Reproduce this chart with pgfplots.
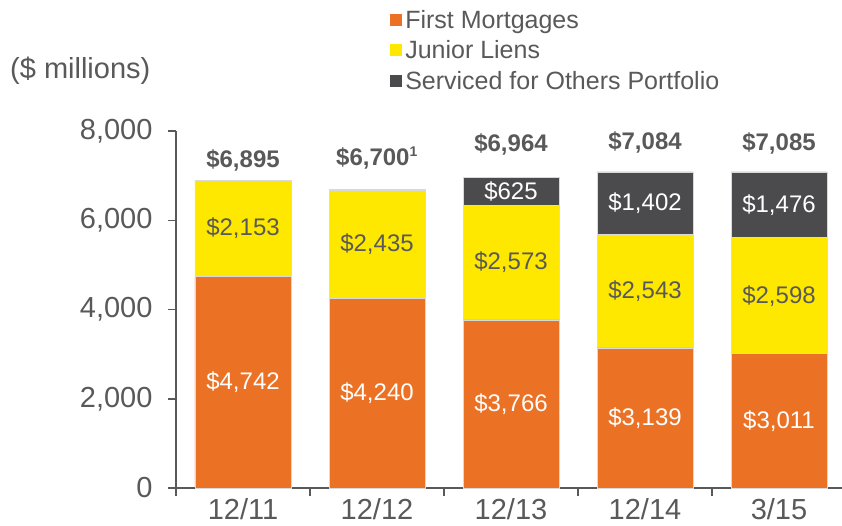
\documentclass[border=0pt]{standalone}
\usepackage{pgfplots}
\pgfplotsset{compat=1.18}
\usepackage{fontspec}
\setmainfont{Liberation Sans}
\definecolor{fmOrange}{HTML}{EB7125}
\definecolor{jlYellow}{HTML}{FFE800}
\definecolor{sfGrey}{HTML}{4B4B4D}
\definecolor{txtGrey}{HTML}{595959}
\begin{document}
\begin{tikzpicture}
\begin{axis}[
  scale only axis, width=670pt, height=357pt,
  ybar stacked, bar width=96pt,
  xmin=-0.5, xmax=4.5, ymin=0, ymax=8000,
  axis x line=bottom, axis y line=left,
  axis line style={-, draw=txtGrey, line width=1.5pt},
  tick align=outside, major tick length=8pt,
  tick style={draw=txtGrey, line width=1.5pt},
  xtick={-0.5,0.5,1.5,2.5,3.5,4.5}, xticklabels={},
  extra x ticks={0,1,2,3,4},
  extra x tick labels={12/11,12/12,12/13,12/14,3/15},
  extra x tick style={major tick length=0pt, xticklabel style={yshift=-7pt}},
  ytick={0,2000,4000,6000,8000},
  yticklabel style={xshift=-12pt},
  /pgf/number format/assume math mode=true,
  /pgf/number format/.cd, 1000 sep={,}, /pgfplots/.cd,
  ticklabel style={font=\fontsize{29}{34}\selectfont, text=txtGrey},
  legend style={at={(rel axis cs:0.3195,1.345)}, anchor=north west, draw=none, fill=none,
    font=\fontsize{25}{30}\selectfont, text=txtGrey, row sep=7pt, inner sep=0pt,
    nodes={inner sep=2pt}},
  legend cell align=left,
  legend image code/.code={\fill[#1,draw=none] (0pt,-6pt) rectangle (12pt,6pt);},
  every axis plot/.append style={draw=white!85!black, line width=0.6pt},
  clip=false,
]
\addplot[fill=fmOrange] coordinates {(0,4742) (1,4240) (2,3766) (3,3139) (4,3011)};
\addplot[fill=jlYellow] coordinates {(0,2153) (1,2435) (2,2573) (3,2543) (4,2598)};
\addplot[fill=sfGrey] coordinates {(0,0) (1,25) (2,625) (3,1402) (4,1476)};
\legend{\hspace{1pt}First Mortgages, \hspace{1pt}Junior Liens, \hspace{1pt}Serviced for Others Portfolio}
\coordinate (O) at (rel axis cs:0,0);
% first mortgages
\coordinate (f0) at (axis cs:0,2371);
\coordinate (f1) at (axis cs:1,2120);
\coordinate (f2) at (axis cs:2,1883);
\coordinate (f3) at (axis cs:3,1570);
\coordinate (f4) at (axis cs:4,1506);
% junior liens
\coordinate (j0) at (axis cs:0,5818);
\coordinate (j1) at (axis cs:1,5457);
\coordinate (j2) at (axis cs:2,5052);
\coordinate (j3) at (axis cs:3,4410);
\coordinate (j4) at (axis cs:4,4310);
% serviced
\coordinate (s2) at (axis cs:2,6651);
\coordinate (s3) at (axis cs:3,6383);
\coordinate (s4) at (axis cs:4,6347);
% totals
\coordinate (t0) at (axis cs:0,7349);
\coordinate (t1) at (axis cs:1,7394);
\coordinate (t2) at (axis cs:2,7708);
\coordinate (t3) at (axis cs:3,7753);
\coordinate (t4) at (axis cs:4,7730);
\end{axis}
\tikzset{lw/.style={font=\fontsize{24}{28}\selectfont, text=white},
         lg/.style={font=\fontsize{24}{28}\selectfont, text=txtGrey},
         lt/.style={font=\fontsize{24}{28}\selectfont\bfseries, text=txtGrey}}
\node[lw] at (f0) {\$4,742};
\node[lw] at (f1) {\$4,240};
\node[lw] at (f2) {\$3,766};
\node[lw] at (f3) {\$3,139};
\node[lw] at (f4) {\$3,011};
\node[lg] at (j0) {\$2,153};
\node[lg] at (j1) {\$2,435};
\node[lg] at (j2) {\$2,573};
\node[lg] at (j3) {\$2,543};
\node[lg] at (j4) {\$2,598};
\node[lw] at (s2) {\$625};
\node[lw] at (s3) {\$1,402};
\node[lw] at (s4) {\$1,476};
\node[lt] at (t0) {\$6,895};
\node[lt] at (t1) {\$6,700\textsuperscript{\fontsize{14}{16}\selectfont 1}};
\node[lt] at (t2) {\$6,964};
\node[lt] at (t3) {\$7,084};
\node[lt] at (t4) {\$7,085};
\node[anchor=west, font=\fontsize{29}{34}\selectfont, text=txtGrey, inner sep=0pt] at ([xshift=-166pt,yshift=417pt]O) {(\$ millions)};
\pgfresetboundingbox
\path[use as bounding box] ([xshift=-176pt,yshift=-37pt]O) rectangle ([xshift=666pt,yshift=488pt]O);
\end{tikzpicture}
\end{document}
